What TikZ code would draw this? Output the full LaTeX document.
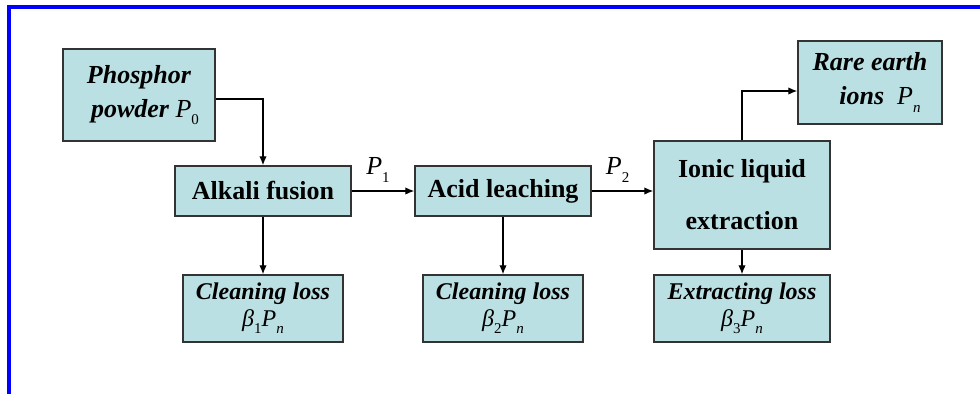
\documentclass[tikz,border=0pt]{standalone}
\usepackage{fontspec}
\setmainfont{Liberation Serif}
\usetikzlibrary{arrows.meta}
\definecolor{boxfill}{HTML}{BBE0E3}
\definecolor{boxline}{HTML}{333333}
\newcommand{\lowsub}[1]{\raisebox{-0.3em}{\normalfont\fontsize{15}{15}\selectfont #1}}
\newcommand{\PP}[1]{{\normalfont\itshape P}\lowsub{#1}}
\newcommand{\BB}[1]{{\normalfont\itshape β}\lowsub{#1}}
\begin{document}
\begin{tikzpicture}[x=1pt,y=-1pt,
  box/.style={draw=boxline, line width=1.5pt, fill=boxfill, inner sep=0pt, align=center},
  bigb/.style={box, font=\fontsize{26}{33}\selectfont\bfseries},
  bigbi/.style={box, font=\fontsize{26}{34}\selectfont\bfseries\itshape},
  lossb/.style={box, font=\fontsize{24}{27}\selectfont\bfseries\itshape, minimum height=67pt},
  plabel/.style={font=\fontsize{26}{26}\selectfont, inner sep=0pt},
  conn/.style={line width=1.3pt, -{Latex[length=9pt,width=7.5pt]}}]
\useasboundingbox (0,0) rectangle (980,394);
\draw[blue, line width=4pt] (9,394) -- (9,7) -- (980,7);

\node[bigbi, minimum width=152pt, minimum height=92pt] (phos) at (139,95) {Phosphor\\ \hspace{12pt}powder \PP{0}};
\node[bigb, minimum width=176pt, minimum height=50pt] (alk) at (263,191) {Alkali fusion};
\node[bigb, minimum width=176pt, minimum height=50pt] (acid) at (503,191) {Acid leaching};
\node[box, font=\fontsize{26}{52}\selectfont\bfseries, minimum width=176pt, minimum height=108pt] (ion) at (742,195) {Ionic liquid\\ extraction};
\node[bigbi, minimum width=144pt, minimum height=83pt] (rare) at (870,82.5) {Rare earth\\ \hspace{20pt}ions~ \PP{\itshape n}};
\node[lossb, minimum width=160pt] (cl1) at (263,308.5) {Cleaning loss\\ \BB{1}\PP{\itshape n}};
\node[lossb, minimum width=160pt] (cl2) at (503,308.5) {Cleaning loss\\ \BB{2}\PP{\itshape n}};
\node[lossb, minimum width=176pt] (ext) at (742,308.5) {Extracting loss\\ \BB{3}\PP{\itshape n}};

\draw[conn] ([yshift=-4pt]phos.east) -| (alk.north);
\draw[conn] (alk.south) -- (cl1.north);
\draw[conn] (alk.east) -- node[plabel, above=8pt, pos=0.42] {\PP{1}} (acid.west);
\draw[conn] (acid.south) -- (cl2.north);
\draw[conn] (acid.east) -- node[plabel, above=8pt, pos=0.42] {\PP{2}} (acid.east -| ion.west);
\draw[conn] (ion.north) |- ([yshift=-8.5pt]rare.west);
\draw[conn] (ion.south) -- (ext.north);
\end{tikzpicture}
\end{document}
